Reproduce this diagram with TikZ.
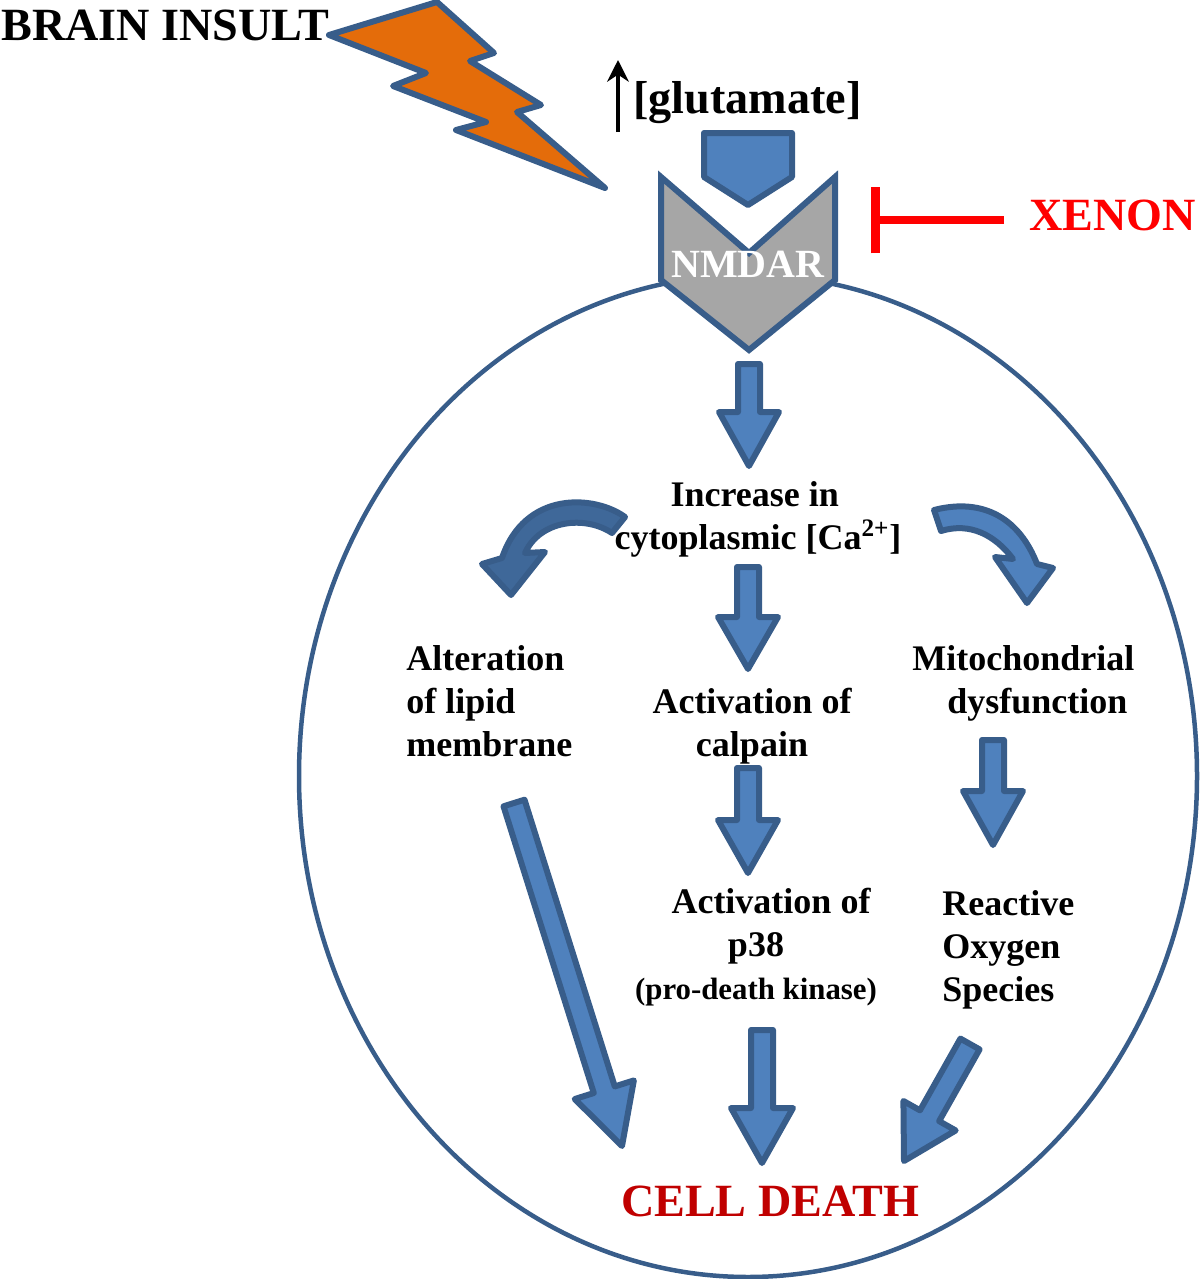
\documentclass[tikz,border=0pt]{standalone}
\usepackage{fontspec}
\setmainfont{Liberation Serif}
\usetikzlibrary{calc,arrows.meta}
\definecolor{edgeblue}{HTML}{385D8A}
\definecolor{fillblue}{HTML}{4F81BD}
\definecolor{boltorange}{HTML}{E46C0A}
\definecolor{deathred}{HTML}{C00000}
\tikzset{
	lbl/.style={font=\bfseries\fontsize{21.6}{25.8}\selectfont,inner sep=0pt},
	biglbl/.style={lbl,font=\bfseries\fontsize{27.7}{32}\selectfont},
	blockarrow/.style={draw=edgeblue,fill=fillblue,line width=3.6pt,line join=round},
}
\begin{document}
\begin{tikzpicture}[x=0.6pt,y=-0.6pt,line join=round,>=stealth]
	\useasboundingbox (0,0) rectangle (1200,1279);
	% cell outline
	\draw[edgeblue,line width=2.7pt] (748,776) ellipse [x radius=449,y radius=501];
	% lightning bolt
	\draw[blockarrow,fill=boltorange] (329,35)--(437,2)--(494,53)--(470,61)--(541,105)--(517,112)--(605,188)--(456,130)--(486,122)--(393,86)--(426,73)--cycle;
	% ligand and receptor
	\draw[blockarrow] (704,133)--(792,133)--(792,177)--(748,205)--(704,177)--cycle;
	\draw[blockarrow,fill=black!35,line join=miter] (661,177)--(749,253)--(835,177)--(835,280)--(749,350)--(661,280)--cycle;
	\node[lbl,text=white,font=\bfseries\fontsize{24}{28}\selectfont] (nmdar) at (748,264) {NMDAR};
	% straight arrows: start / tip / half shaft / half head / head length
	\foreach \xs/\ys/\xt/\yt/\sw/\hw/\hl in {
		749/364/749/466/11/30/54,
		748/567/748/669/11/30/52,
		748/768/748/873/11/30/53,
		993/740/993/845/11/30/54,
		762/1030/762/1163/11/31/55,
		514/803/622/1146/11/31/59,
		970/1044/904/1161/11/30/52}
	{
		\coordinate (s) at (\xs,\ys);
		\coordinate (t) at (\xt,\yt);
		\draw[blockarrow] ($(s)!\sw*0.6pt!90:(t)$)
			--($(t)!\hl*0.6pt!(s)!\sw*0.6pt!90:(t)$)
			--($(t)!\hl*0.6pt!(s)!\hw*0.6pt!90:(t)$)
			--(t)
			--($(t)!\hl*0.6pt!(s)!\hw*0.6pt!-90:(t)$)
			--($(t)!\hl*0.6pt!(s)!\sw*0.6pt!-90:(t)$)
			--($(s)!\sw*0.6pt!-90:(t)$)--cycle;
	}
	% curved arrows beside the calcium label
	\draw[blockarrow,fill=edgeblue!70!fillblue] (625,517) .. controls (595,495) and (525,490) .. (502,558)
		--(482,564)--(511,595)--(545,552)--(525,553) .. controls (540,520) and (585,515) .. (612,533)--cycle;
	\draw[blockarrow] (934,510) .. controls (985,497) and (1020,520) .. (1037,564)
		--(1053,568)--(1027,603)--(995,557)--(1013,559) .. controls (995,535) and (970,522) .. (941,531)--cycle;
	% labels
	\node[biglbl,anchor=base west] (insult) at (1,41) {BRAIN INSULT};
	\node[biglbl,anchor=base west] (glutamate) at (633,114) {[glutamate]};
	\coordinate (upa) at (618,132);
	\coordinate (upb) at (618,60);
	\draw[-{Stealth[length=13pt,width=13pt]},line width=2.8pt] (upa)--(upb);
	\node[biglbl,anchor=base west,text=red] (xenon) at (1029,230) {XENON};
	\coordinate (xeA) at (1004,220);
	\coordinate (xeB) at (871,220);
	\draw[red,line width=4.8pt,-{Bar[width=40pt,line width=5.4pt]}] (xeA)--(xeB);
	\node[lbl,align=center] (calcium) at (758,519) {Increase in\hspace*{4pt}\\cytoplasmic [Ca\textsuperscript{2+}]};
	\node[lbl,align=left,anchor=west] (lipid) at (406,701) {Alteration\\of lipid\\membrane};
	\node[lbl,align=center] (calpain) at (752,726) {Activation of\\calpain};
	\node[lbl,align=left,anchor=west] (mito) at (912,683) {Mitochondrial\\\hspace*{21pt}dysfunction};
	\node[lbl,align=center] (ptt) at (756,947) {\hspace*{18pt}Activation of\\p38\\{\fontsize{18.5}{25.8}\selectfont (pro-death kinase)}};
	\node[lbl,align=left,anchor=west] (ros) at (942,950) {Reactive\\Oxygen\\Species};
	\node[biglbl,anchor=base,text=deathred] (death) at (770,1216) {CELL DEATH};
\end{tikzpicture}
\end{document}
